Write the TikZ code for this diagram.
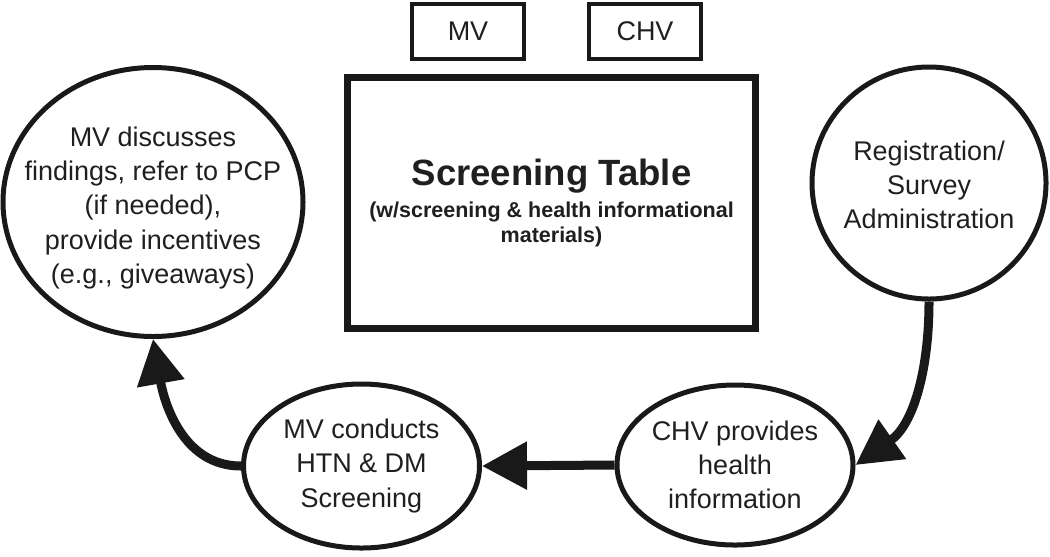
\documentclass[tikz,border=0pt]{standalone}
\usepackage{fontspec}
\setmainfont{Liberation Sans}
\usepackage{xcolor}
\usepackage{tikz}
\usetikzlibrary{arrows.meta,shapes.geometric}

\newcommand{\titlefont}{\fontsize{26}{30}\selectfont\bfseries}
\newcommand{\notefont}{\fontsize{15.3}{19.2}\selectfont\bfseries}

\begin{document}
\begin{tikzpicture}[
  every node/.style={text=black!88, align=center, font=\fontsize{19.2}{24.2}\selectfont},
  rolebox/.style={rectangle, draw=black!90, line width=0.1cm, minimum width=2.8cm, minimum height=1.375cm},
  station/.style={ellipse, draw=black!90, line width=0.125cm, inner sep=0pt},
  flow/.style={line width=0.225cm, draw=black!90, -{Triangle[length=1.125cm, width=1.15cm]}}
]
\useasboundingbox (0,0) rectangle (26.25,-13.9);

\node (mv) [rolebox] at (11.7,-0.775) {MV};

\node (chv) [rolebox] at (16.125,-0.775) {CHV};

\node (table) [rectangle, draw=black!90, line width=0.175cm, minimum width=10.2cm, minimum height=6.275cm] at (13.7875,-5.075) {\titlefont Screening Table\\[-1.6pt] \notefont (w/screening \& health informational\\[-6.4pt] \notefont materials)};

\node (discuss) [station, minimum width=7.5cm, minimum height=6.725cm, label={[yshift=-0.15cm]center:{MV discusses\\ findings, refer to PCP\\ (if needed),\\ provide incentives\\ (e.g., giveaways)}}] at (3.825,-5.05) {};

\node (register) [station, minimum width=5.85cm, minimum height=5.8cm, label={[yshift=-0.05cm]center:{Registration/\\ Survey\\ Administration}}] at (23.225,-4.575) {};

\node (provide) [station, minimum width=5.9cm, minimum height=4cm, label={center:{CHV provides\\ health\\ information}}] at (18.375,-11.625) {};

\node (conduct) [station, minimum width=5.9cm, minimum height=4.1cm, label={center:{MV conducts\\ HTN \& DM\\ Screening}}] at (9.0375,-11.65) {};

\draw[flow] (register.south) to[out=-90, in=35] (provide.east);
\draw[flow] (provide.west) -- (conduct.east);
\draw[flow] (conduct.west) to[out=180, in=-80] (discuss.south);

\end{tikzpicture}
\end{document}
